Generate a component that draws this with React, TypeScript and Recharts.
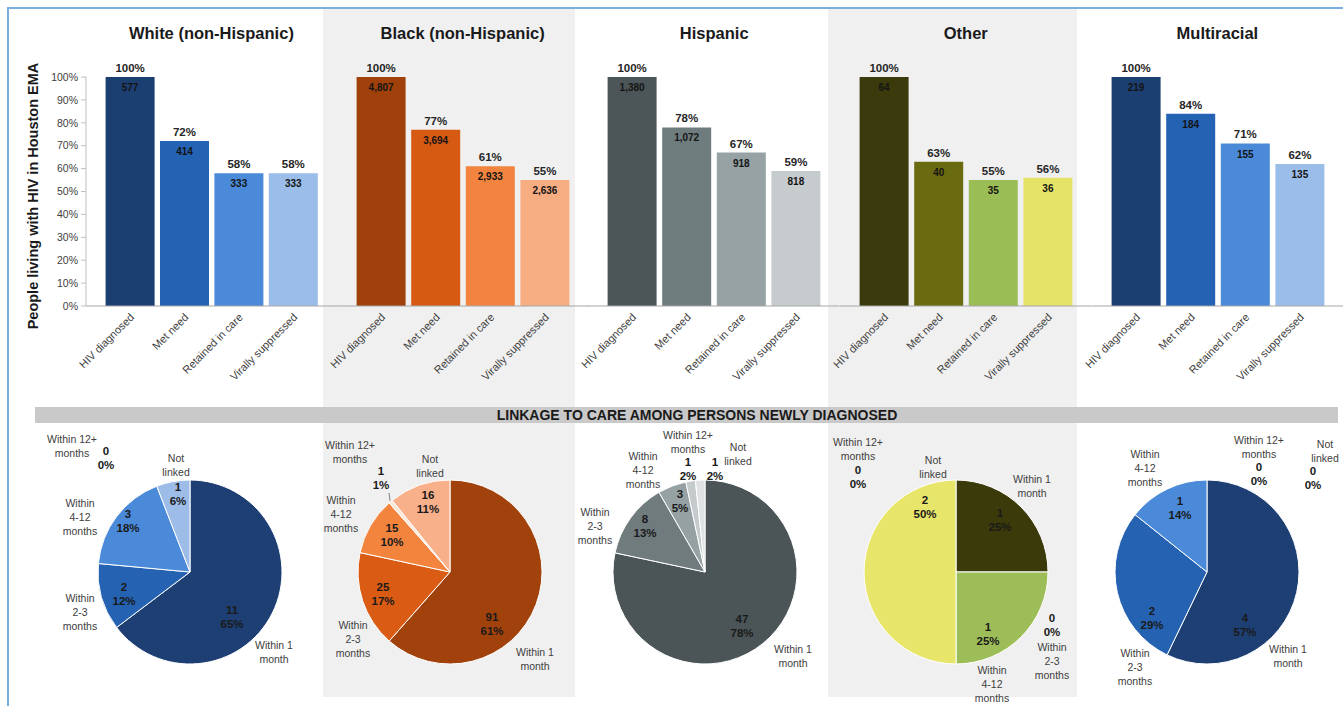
import React from 'react';
import { BarChart, Bar, XAxis, YAxis, Cell, LabelList, PieChart, Pie } from 'recharts';

// ---------- data ----------
const STAGES = ['HIV diagnosed', 'Met need', 'Retained in care', 'Virally suppressed'];
const GROUPS = ['White (non-Hispanic)', 'Black (non-Hispanic)', 'Hispanic', 'Other', 'Multiracial'];
const Y_TICKS = [0, 10, 20, 30, 40, 50, 60, 70, 80, 90, 100];

const WHITE_PCT = [100, 72, 58, 58];
const WHITE_COUNT = [577, 414, 333, 333];
const BLACK_PCT = [100, 77, 61, 55];
const BLACK_COUNT = [4807, 3694, 2933, 2636];
const HISP_PCT = [100, 78, 67, 59];
const HISP_COUNT = [1380, 1072, 918, 818];
const OTHER_PCT = [100, 63, 55, 56];
const OTHER_COUNT = [64, 40, 35, 36];
const MULTI_PCT = [100, 84, 71, 62];
const MULTI_COUNT = [219, 184, 155, 135];

const LINK_CATS = ['Within 1 month', 'Within 2-3 months', 'Within 4-12 months', 'Within 12+ months', 'Not linked'];
const LINK_CAT_LINES = [['Within 1', 'month'], ['Within', '2-3', 'months'], ['Within', '4-12', 'months'], ['Within 12+', 'months'], ['Not', 'linked']];
const WHITE_LINK = [11, 2, 3, 0, 1];
const BLACK_LINK = [91, 25, 15, 1, 16];
const HISP_LINK = [47, 8, 3, 1, 1];
const OTHER_LINK = [1, 0, 1, 0, 2];
const MULTI_LINK = [4, 2, 1, 0, 0];

const BANNER = 'LINKAGE TO CARE AMONG PERSONS NEWLY DIAGNOSED';
const Y_TITLE = 'People living with HIV in Houston EMA';

const PCTS = [WHITE_PCT, BLACK_PCT, HISP_PCT, OTHER_PCT, MULTI_PCT];
const COUNTS = [WHITE_COUNT, BLACK_COUNT, HISP_COUNT, OTHER_COUNT, MULTI_COUNT];
const LINKS = [WHITE_LINK, BLACK_LINK, HISP_LINK, OTHER_LINK, MULTI_LINK];

// ---------- styles / layout ----------
const FONT = '"Liberation Sans", Arial, Helvetica, sans-serif';
const BAR_COLORS = [
  ['#1c3f72', '#2462b3', '#4a8ad9', '#9bbde9'],
  ['#a0400b', '#d75a13', '#f2843f', '#f7ad82'],
  ['#4c5558', '#6f7c7e', '#96a2a3', '#c6ccce'],
  ['#3b3a0c', '#6a6a10', '#9bbd55', '#e6e468'],
  ['#1c3f72', '#2462b3', '#4a8ad9', '#9bbde9'],
];
const PIE_COLORS = [
  ['#1d3f73', '#2563b2', '#4a8ad9', '#7aa6df', '#9dbde8'],
  ['#a1410c', '#d95b14', '#f2843e', '#fce6d8', '#f8b08a'],
  ['#4b5457', '#6f7b7d', '#96a1a3', '#c5cbcd', '#dfe3e4'],
  ['#3b3a0b', '#6a6b12', '#9dbd58', '#cfd97a', '#e8e56b'],
  ['#1d3f73', '#2563b2', '#4a8ad9', '#7aa6df', '#9dbde8'],
];

const Y_AXIS_W = 86;
const PANEL_W = 251.6;
const FIRST_W = 336.8;
const PLOT_TOP = 77;
const PLOT_BOTTOM = 306;
const CHART_H = 400;

const PIE_CX = [190, 450, 705, 956, 1207];
const PIE_CY = 572;
const PIE_R = 92;
const PIE_BOX = 300;
const LH = 14;

type LabelPos = { inn?: number[]; name: number[]; val?: number[]; leader?: boolean };
const PIE_LABELS: LabelPos[][] = [
  [
    { inn: [42, 45], name: [84, 80] },
    { inn: [-66, 22], name: [-110, 40] },
    { inn: [-62, -51], name: [-110, -55] },
    { name: [-118, -126], val: [-84, -114] },
    { inn: [-12, -78], name: [-14, -107] },
  ],
  [
    { inn: [42, 52], name: [85, 87] },
    { inn: [-67, 22], name: [-97, 67] },
    { inn: [-58, -37], name: [-109, -58] },
    { name: [-100, -120], val: [-69, -94], leader: true },
    { inn: [-22, -70], name: [-20, -106] },
  ],
  [
    { inn: [37, 54], name: [88, 84] },
    { inn: [-60, -46], name: [-110, -46] },
    { inn: [-25, -71], name: [-62, -102] },
    { name: [-17, -130], val: [-17, -103] },
    { name: [33, -118], val: [10, -103] },
  ],
  [
    { inn: [44, -52], name: [76, -86] },
    { name: [96, 89], val: [96, 53] },
    { inn: [32, 62], name: [36, 112] },
    { name: [-98, -123], val: [-98, -95] },
    { inn: [-31, -65], name: [-23, -105] },
  ],
  [
    { inn: [38, 53], name: [81, 84] },
    { inn: [-55, 46], name: [-72, 95] },
    { inn: [-27, -64], name: [-62, -104] },
    { name: [52, -125], val: [52, -98] },
    { name: [118, -121], val: [106, -94] },
  ],
];

const RAD = Math.PI / 180;

function RotTick(props: any) {
  const { x, y, payload } = props;
  const ax = x + 5;
  const ay = y + 4;
  return (
    <text x={ax} y={ay} transform={`rotate(-45 ${ax} ${ay})`} textAnchor="end" fontSize={11} fill="#404040" fontFamily={FONT}>
      {payload.value}
    </text>
  );
}

function CascadeChart({ g }: { g: number }) {
  const first = g === 0;
  const width = first ? FIRST_W : PANEL_W;
  const left = first ? 0 : FIRST_W + (g - 1) * PANEL_W;
  const data = STAGES.map((s, i) => ({ stage: s, pct: PCTS[g][i], count: COUNTS[g][i] }));
  const pad = 16.6;
  return (
    <div style={{ position: 'absolute', left, top: 0, width, height: CHART_H }}>
      <BarChart width={width} height={CHART_H} data={data} margin={{ top: PLOT_TOP, right: 0, bottom: 0, left: 0 }} style={{ overflow: 'visible' }}>
        <XAxis
          dataKey="stage"
          type="category"
          interval={0}
          height={CHART_H - PLOT_BOTTOM}
          padding={{ left: pad, right: pad }}
          axisLine={{ stroke: '#a6a6a6', strokeWidth: 1 }}
          tickLine={false}
          tick={<RotTick />}
        />
        {first ? (
          <YAxis
            width={Y_AXIS_W}
            domain={[0, 100]}
            ticks={Y_TICKS}
            tickFormatter={(v: number) => `${v}%`}
            axisLine={{ stroke: '#bfbfbf' }}
            tickLine={{ stroke: '#bfbfbf' }}
            tickSize={5}
            tickMargin={3}
            tick={{ fontSize: 10.5, fill: '#404040', fontFamily: FONT }}
          />
        ) : (
          <YAxis hide domain={[0, 100]} />
        )}
        <Bar dataKey="pct" barSize={49} isAnimationActive={false}>
          {data.map((d, i) => (
            <Cell key={d.stage} fill={BAR_COLORS[g][i]} />
          ))}
          <LabelList
            dataKey="pct"
            position="top"
            offset={5}
            formatter={(v: any) => `${v}%`}
            fill="#262626"
            fontSize={11.5}
            fontWeight="bold"
            fontFamily={FONT}
          />
          <LabelList
            dataKey="count"
            position="insideTop"
            offset={7}
            formatter={(v: any) => Number(v).toLocaleString('en-US')}
            fill="#141414"
            fontSize={10}
            fontWeight="bold"
            fontFamily={FONT}
          />
        </Bar>
      </BarChart>
    </div>
  );
}

function textBlock(key: string, x: number, y: number, lines: string[], bold: boolean) {
  const top = y - ((lines.length - 1) * LH) / 2;
  return lines.map((t, i) => (
    <text
      key={`${key}-${i}`}
      x={x}
      y={top + i * LH}
      dy="0.35em"
      textAnchor="middle"
      fontSize={bold ? 11.5 : 10.5}
      fontWeight={bold ? 'bold' : 'normal'}
      fill={bold ? '#1a1a1a' : '#404040'}
      fontFamily={FONT}
    >
      {t}
    </text>
  ));
}

function makePieLabel(g: number) {
  return (props: any) => {
    const { cx, cy, index, percent, value, midAngle, outerRadius } = props;
    const L = PIE_LABELS[g][index];
    if (!L) return null;
    const valLines = [String(value), `${Math.round((percent || 0) * 100)}%`];
    const parts: any[] = [];
    parts.push(...textBlock(`n${index}`, cx + L.name[0], cy + L.name[1], LINK_CAT_LINES[index], false));
    if (L.inn) parts.push(...textBlock(`i${index}`, cx + L.inn[0], cy + L.inn[1], valLines, true));
    if (L.val) parts.push(...textBlock(`v${index}`, cx + L.val[0], cy + L.val[1], valLines, true));
    if (L.leader && L.val) {
      const ex = cx + (outerRadius + 1) * Math.cos(-midAngle * RAD);
      const ey = cy + (outerRadius + 1) * Math.sin(-midAngle * RAD);
      parts.push(
        <line key={`l${index}`} x1={ex} y1={ey} x2={cx + L.val[0] + 8} y2={cy + L.val[1] + 15} stroke="#7f7f7f" strokeWidth={1} />
      );
    }
    return <g>{parts}</g>;
  };
}

function LinkagePie({ g }: { g: number }) {
  const data = LINK_CATS.map((c, i) => ({ name: c, value: LINKS[g][i] }));
  const half = PIE_BOX / 2;
  return (
    <div style={{ position: 'absolute', left: PIE_CX[g] - half, top: PIE_CY - half, width: PIE_BOX, height: PIE_BOX }}>
      <PieChart width={PIE_BOX} height={PIE_BOX} margin={{ top: 0, right: 0, bottom: 0, left: 0 }}>
        <Pie
          data={data}
          dataKey="value"
          nameKey="name"
          cx={half}
          cy={half}
          outerRadius={PIE_R}
          startAngle={90}
          endAngle={-270}
          stroke="#ffffff"
          strokeWidth={1}
          isAnimationActive={false}
          labelLine={false}
          label={makePieLabel(g)}
        >
          {data.map((d, i) => (
            <Cell key={d.name} fill={PIE_COLORS[g][i]} />
          ))}
        </Pie>
      </PieChart>
    </div>
  );
}

export default function App() {
  const titleCenters = GROUPS.map((_, g) => (g === 0 ? Y_AXIS_W + (FIRST_W - Y_AXIS_W) / 2 : FIRST_W + (g - 1) * PANEL_W + PANEL_W / 2));
  return (
    <div style={{ position: 'relative', width: 1343, height: 706, background: '#ffffff', overflow: 'hidden', fontFamily: FONT }}>
      <style>{'body{margin:0;} .recharts-wrapper, .recharts-surface{overflow:visible !important;}'}</style>
      <div style={{ position: 'absolute', left: 323, top: 9, width: 252, height: 688, background: '#f0f0f0' }} />
      <div style={{ position: 'absolute', left: 828, top: 9, width: 249, height: 688, background: '#f0f0f0' }} />
      <div style={{ position: 'absolute', left: 7, top: 7, width: 1345, height: 710, borderTop: '2px solid #79aee0', borderLeft: '2px solid #79aee0' }} />

      {GROUPS.map((t, g) => (
        <div
          key={t}
          style={{
            position: 'absolute', left: titleCenters[g] - 130, top: 22, width: 260, lineHeight: '22px',
            textAlign: 'center', fontSize: 16.5, fontWeight: 'bold', color: '#1a1a1a',
          }}
        >
          {t}
        </div>
      ))}

      <div
        style={{
          position: 'absolute', left: 33 - 160, top: 196 - 10, width: 320, height: 20, lineHeight: '20px',
          textAlign: 'center', transform: 'rotate(-90deg)', fontSize: 14.5, fontWeight: 'bold', color: '#1a1a1a',
        }}
      >
        {Y_TITLE}
      </div>

      {GROUPS.map((t, g) => (
        <CascadeChart key={`bar-${t}`} g={g} />
      ))}

      <div style={{ position: 'absolute', left: 35, top: 407, width: 1303, height: 16, background: '#c9c9c9' }} />
      <div
        style={{
          position: 'absolute', left: 697 - 300, top: 407, width: 600, height: 16, lineHeight: '16px',
          textAlign: 'center', fontSize: 14, fontWeight: 'bold', color: '#1a1a1a',
        }}
      >
        {BANNER}
      </div>

      {GROUPS.map((t, g) => (
        <LinkagePie key={`pie-${t}`} g={g} />
      ))}
    </div>
  );
}
